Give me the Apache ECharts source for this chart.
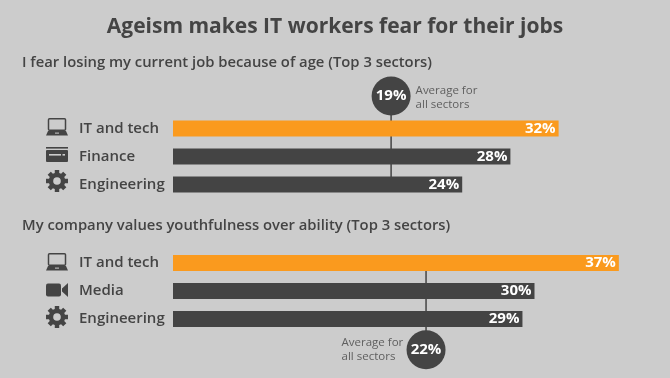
<!DOCTYPE html>
<html>
<head>
<meta charset="utf-8">
<script src="https://cdn.jsdelivr.net/npm/echarts@6/dist/echarts.min.js"></script>
<style>
html, body { margin: 0; padding: 0; background: #cccccc; }
#chart { width: 670px; height: 378px; }
</style>
</head>
<body>
<div id="chart"></div>
<script>
var chartTitle = 'Ageism makes IT workers fear for their jobs';
var subTitle1 = 'I fear losing my current job because of age (Top 3 sectors)';
var subTitle2 = 'My company values youthfulness over ability (Top 3 sectors)';
var sectors1 = ['IT and tech', 'Finance', 'Engineering'];
var sectors2 = ['IT and tech', 'Media', 'Engineering'];
var values1 = [32, 28, 24];
var values2 = [37, 30, 29];
var avgLabel1 = 19;
var avgLabel2 = 22;
// the marker in the picture does not sit exactly on its printed value
var avgAt1 = 18.1;
var avgAt2 = 21;

var DARK = '#444444', ORANGE = '#fa9a1e', BG = '#cccccc';
var FONT = 'Open Sans';

function gearPoints(cx, cy) {
	var pts = [], teeth = 8;
	for (var i = 0; i < teeth; i++) {
		var a = i * 2 * Math.PI / teeth;
		[[-0.27, 8.3], [-0.2, 11.2], [0.2, 11.2], [0.27, 8.3]].forEach(function (p) {
			pts.push([cx + p[1] * Math.cos(a + p[0]), cy + p[1] * Math.sin(a + p[0])]);
		});
	}
	return pts;
}
function gearIcon(cy) {
	return [
		{type: 'polygon', shape: {points: gearPoints(57, cy)}, style: {fill: DARK}},
		{type: 'circle', shape: {cx: 57, cy: cy, r: 3.8}, style: {fill: BG}}
	];
}
function laptopIcon(top) {
	return [
		{type: 'rect', shape: {x: 48.5, y: top + 0.7, width: 17, height: 11.5, r: 1}, style: {fill: 'none', stroke: DARK, lineWidth: 1.5}},
		{type: 'polygon', shape: {points: [[48, top + 13], [66, top + 13], [68, top + 17.5], [46, top + 17.5]]}, style: {fill: DARK}},
		{type: 'rect', shape: {x: 55, y: top + 14.6, width: 4, height: 1}, style: {fill: BG}}
	];
}
function cardIcon(top) {
	return [
		{type: 'rect', shape: {x: 46, y: top, width: 22, height: 1.6}, style: {fill: DARK}},
		{type: 'rect', shape: {x: 46, y: top + 3, width: 22, height: 12, r: 1}, style: {fill: DARK}},
		{type: 'rect', shape: {x: 49, y: top + 7, width: 12, height: 1.6}, style: {fill: BG}},
		{type: 'rect', shape: {x: 62.5, y: top + 7, width: 2.5, height: 1.6}, style: {fill: BG}}
	];
}
function videoIcon(top) {
	return [
		{type: 'rect', shape: {x: 46, y: top, width: 15, height: 13, r: 2}, style: {fill: DARK}},
		{type: 'polygon', shape: {points: [[62, top + 5], [68, top - 0.5], [68, top + 13.5], [62, top + 8]]}, style: {fill: DARK}}
	];
}

function barData(values) {
	return values.map(function (v, i) {
		return {value: v, itemStyle: {color: i === 0 ? ORANGE : DARK}};
	});
}
function barSeries(idx, values) {
	return {
		type: 'bar', xAxisIndex: idx, yAxisIndex: idx * 2, barWidth: 16, z: 3,
		data: barData(values), silent: true,
		label: {
			show: true, position: 'insideRight', distance: 3,
			formatter: '{c}%', color: '#ffffff',
			fontFamily: FONT, fontWeight: 700, fontSize: 15
		}
	};
}
function stemSeries(idx, at, fromRow, toRow) {
	return {
		type: 'line', xAxisIndex: idx, yAxisIndex: idx * 2 + 1, z: 1, clip: false, silent: true,
		symbol: 'none', lineStyle: {color: DARK, width: 1.5},
		data: [[at, fromRow], [at, toRow]]
	};
}
function bubbleSeries(idx, at, row, label) {
	return {
		type: 'scatter', xAxisIndex: idx, yAxisIndex: idx * 2 + 1, z: 4, clip: false, silent: true,
		symbolSize: 39, itemStyle: {color: DARK, opacity: 1},
		data: [[at, row]],
		label: {
			show: true, position: 'inside', formatter: label + '%', color: '#ffffff',
			fontFamily: FONT, fontWeight: 700, fontSize: 15
		}
	};
}
function noteSeries(idx, at, row, offset) {
	return {
		type: 'scatter', xAxisIndex: idx, yAxisIndex: idx * 2 + 1, z: 4, clip: false, silent: true,
		symbolSize: 1, itemStyle: {color: 'rgba(0,0,0,0)'}, data: [[at, row]],
		label: {
			show: true, position: offset, formatter: 'Average for\nall sectors',
			color: DARK, fontFamily: FONT, fontSize: 11.5, lineHeight: 14, align: 'left', verticalAlign: 'top'
		}
	};
}
function catAxis(grid, names) {
	return {
		type: 'category', gridIndex: grid, data: names, inverse: true,
		axisLine: {show: false}, axisTick: {show: false},
		axisLabel: {
			margin: 94, align: 'left', color: DARK, padding: [0, 0, 2, 0],
			fontFamily: FONT, fontWeight: 600, fontSize: 15
		}
	};
}
// hidden axis in row units, so the bubble can be placed above or below the bars
function rowAxis(grid) {
	return {type: 'value', gridIndex: grid, show: false, inverse: true, min: -0.5, max: 2.5, splitLine: {show: false}};
}
function valAxis(grid) {
	return {type: 'value', gridIndex: grid, show: false, min: 0, max: 40, splitLine: {show: false}};
}

var chart = echarts.init(document.getElementById('chart'), null, {renderer: 'canvas'});
var option = {
	backgroundColor: BG,
	animation: false,
	title: [
		{text: chartTitle, left: 'center', top: 16.5, padding: 0, textStyle: {color: DARK, fontFamily: FONT, fontWeight: 700, fontSize: 21}},
		{text: subTitle1, left: 22, top: 55, padding: 0, textStyle: {color: DARK, fontFamily: FONT, fontWeight: 600, fontSize: 14.8}},
		{text: subTitle2, left: 22, top: 218, padding: 0, textStyle: {color: DARK, fontFamily: FONT, fontWeight: 600, fontSize: 14.8}}
	],
	grid: [
		{left: 173, top: 114.5, width: 482, height: 84},
		{left: 173, top: 249, width: 482, height: 84}
	],
	xAxis: [valAxis(0), valAxis(1)],
	yAxis: [catAxis(0, sectors1), rowAxis(0), catAxis(1, sectors2), rowAxis(1)],
	series: [
		stemSeries(0, avgAt1, -1.16, 2),
		stemSeries(1, avgAt2, 0, 3.1),
		barSeries(0, values1),
		barSeries(1, values2),
		bubbleSeries(0, avgAt1, -1.16, avgLabel1),
		bubbleSeries(1, avgAt2, 3.1, avgLabel2),
		noteSeries(0, avgAt1, -1.16, [25, -12]),
		noteSeries(1, avgAt2, 3.1, [-84, -14])
	],
	graphic: [].concat(
		laptopIcon(118), cardIcon(147), gearIcon(181),
		laptopIcon(253), videoIcon(283.5), gearIcon(317)
	)
};
chart.setOption(option);
</script>
</body>
</html>
